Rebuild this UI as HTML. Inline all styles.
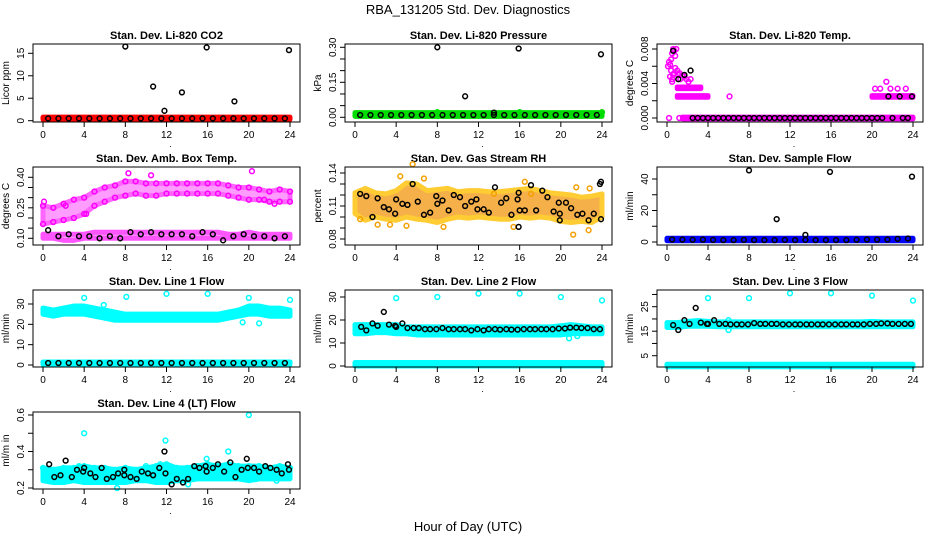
<!DOCTYPE html>
<html><head><meta charset="utf-8"><style>
body{margin:0;background:#fff;}
svg{display:block;font-family:"Liberation Sans",sans-serif;}
</style></head><body>
<svg id="chart" width="936" height="540" viewBox="0 0 936 540" xmlns="http://www.w3.org/2000/svg">
<rect width="936" height="540" fill="#fff"/>
<text x="468" y="14" text-anchor="middle" font-size="13">RBA_131205  Std. Dev. Diagnostics</text>
<text x="468" y="531" text-anchor="middle" font-size="13">Hour of Day (UTC)</text>
</svg>
<script>
// ---------- data ----------
const xTicks = [0,4,8,12,16,20,24];
const hours = [0,1,2,3,4,5,6,7,8,9,10,11,12,13,14,15,16,17,18,19,20,21,22,23,24];
const halfHours = [0.5,1.5,2.5,3.5,4.5,5.5,6.5,7.5,8.5,9.5,10.5,11.5,12.5,13.5,14.5,15.5,16.5,17.5,18.5,19.5,20.5,21.5,22.5,23.5];
const span024 = [0,24];

// P1 CO2
const co2RedLo = [0.3,0.3];
const co2RedHi = [0.8,0.8];
const co2Black = [0.5,0.5,0.5,0.5,0.5,0.5,0.5,0.5,0.5,0.5,0.5,0.5,0.5,0.5,0.5,0.5,0.5,0.5,0.5,0.5,0.5,0.5,0.5,0.5];
const co2OutT = [8,10.7,11.8,13.5,15.9,18.6,23.9];
const co2OutV = [16.5,7.6,2.2,6.3,16.3,4.3,15.7];

// P2 Pressure
const presGreenLo = [0.004,0.004];
const presGreenHi = [0.02,0.02];
const presBlack = [0.01,0.01,0.01,0.01,0.01,0.01,0.01,0.01,0.01,0.01,0.01,0.01,0.01,0.01,0.01,0.01,0.01,0.01,0.01,0.01,0.01,0.01,0.01,0.01];
const presOutT = [8,10.7,13.5,15.9,23.9];
const presOutV = [0.30,0.09,0.02,0.295,0.27];
const presGreenOutT = [8,16,24];
const presGreenOutV = [0.022,0.022,0.022];

// P3 Temp
const tempPinkT = [0.1,0.2,0.3,0.4,0.5,0.6,0.7,0.8,0.9,0.4,0.6,0.8,0.5,0.7,0.3,0.5,1.0,1.1,1.2,1.3,1.5,1.7,1.9,2.1,2.3,6.1,21.4,0.2,1.2];
const tempPinkV = [0.0060,0.0065,0.0062,0.0068,0.0075,0.0080,0.0078,0.0072,0.0080,0.0055,0.0050,0.0058,0.0045,0.0052,0.0048,0.0042,0.0055,0.0050,0.0052,0.0045,0.0050,0.0048,0.0045,0.0042,0.0045,0.0025,0.0042,0,0];
const tempBand1T = [1.0,3.3];
const tempBand1Lo = [0.0034,0.0034];
const tempBand1Hi = [0.0036,0.0036];
const tempBand2T = [1.0,4.0];
const tempBand2Lo = [0.0024,0.0024];
const tempBand2Hi = [0.0026,0.0026];
const tempBand3T = [20,24];
const tempBand3Lo = [0.0024,0.0024];
const tempBand3Hi = [0.0026,0.0026];
const tempBand4T = [20.3,20.8,21.8,22.5,23.3];
const tempBand4Lo = [0.0034,0.0034,0.0034,0.0034,0.0034];
const tempZeroT = [1.5,24];
const tempZeroLo = [-0.0001,-0.0001];
const tempZeroHi = [0.0001,0.0001];
const tempBlackT = [0.6,1.1,1.7,2.3,2.5,3.0,3.5,4,4.5,5,5.5,6,6.5,7,7.5,8,8.5,9,9.5,10,10.5,11,11.5,12,12.5,13,13.5,14,14.5,15,15.5,16,16.5,17,17.5,18,18.5,19,19.5,20,20.5,21,21.6,22,22.7,23,23.5,23.9];
const tempBlackV = [0.0078,0.0045,0.005,0.0055,0,0,0,0,0,0,0,0,0,0,0,0,0,0,0,0,0,0,0,0,0,0,0,0,0,0,0,0,0,0,0,0,0,0,0,0,0,0,0.0025,0,0.0025,0,0,0.0025];

// P4 Amb box temp
const ambUpLo = [0.17,0.18,0.19,0.20,0.22,0.26,0.28,0.30,0.31,0.32,0.31,0.31,0.32,0.32,0.32,0.32,0.32,0.32,0.31,0.30,0.29,0.29,0.28,0.28,0.28];
const ambUpHi = [0.26,0.25,0.27,0.29,0.30,0.33,0.35,0.36,0.38,0.38,0.37,0.37,0.37,0.37,0.37,0.37,0.37,0.37,0.36,0.35,0.35,0.34,0.33,0.34,0.33];
const ambLowLo = [0.10,0.10,0.09,0.09,0.10,0.10,0.10,0.10,0.10,0.10,0.10,0.10,0.10,0.10,0.10,0.10,0.10,0.10,0.10,0.10,0.10,0.10,0.10,0.10,0.10];
const ambLowHi = [0.12,0.12,0.12,0.12,0.12,0.13,0.13,0.13,0.13,0.13,0.13,0.13,0.13,0.13,0.13,0.13,0.13,0.13,0.12,0.12,0.13,0.12,0.12,0.12,0.12];
const ambOutT = [0.1,2.2,4.2,8.3,10.5,20.3,21.5,22.5];
const ambOutV = [0.28,0.26,0.22,0.42,0.41,0.43,0.29,0.27];
const ambBlack = [0.14,0.11,0.12,0.11,0.11,0.10,0.11,0.10,0.13,0.12,0.13,0.12,0.12,0.12,0.11,0.13,0.12,0.09,0.11,0.12,0.11,0.11,0.10,0.11];

// P5 Gas stream RH
const rhLo = [0.103,0.097,0.100,0.098,0.097,0.100,0.098,0.097,0.095,0.098,0.100,0.099,0.100,0.099,0.098,0.098,0.100,0.099,0.100,0.099,0.096,0.095,0.096,0.095,0.100];
const rhHi = [0.122,0.126,0.122,0.121,0.124,0.131,0.130,0.124,0.125,0.126,0.123,0.124,0.124,0.123,0.123,0.124,0.125,0.126,0.124,0.122,0.121,0.120,0.118,0.119,0.121];
const rhOutT = [0.5,2.2,3.4,4.4,5.0,5.6,6.7,8.6,13.5,15.4,16.5,17.1,21.2,21.5,22.7,22.8];
const rhOutV = [0.098,0.093,0.093,0.137,0.092,0.148,0.135,0.091,0.121,0.091,0.132,0.121,0.084,0.127,0.088,0.126];
const rhBlackT = [0.5,1.1,1.7,2.2,2.8,3.3,3.9,4.0,4.6,5.1,5.6,6.1,6.7,7.3,7.9,8.0,8.5,9.1,9.6,10.2,10.7,11.3,11.8,11.9,12.5,13.0,13.6,14.2,14.7,15.2,15.8,15.9,15.9,16.0,16.5,17.1,17.6,18.2,18.7,19.3,19.8,19.9,19.9,20.5,21.0,21.6,22.1,22.7,23.2,23.8,23.9,23.9];
const rhBlackV = [0.121,0.119,0.100,0.117,0.109,0.107,0.103,0.116,0.112,0.111,0.130,0.114,0.102,0.104,0.119,0.112,0.115,0.106,0.120,0.118,0.110,0.114,0.116,0.107,0.107,0.104,0.127,0.113,0.117,0.102,0.116,0.122,0.091,0.106,0.106,0.129,0.106,0.124,0.118,0.105,0.113,0.103,0.097,0.113,0.108,0.102,0.103,0.097,0.103,0.130,0.132,0.098];

// P6 Sample flow
const sfBlueLo = [0.8,0.8];
const sfBlueHi = [2.4,2.4];
const sfBlack = [1.6,1.5,1.4,1.5,1.3,1.2,1.2,1.3,1.2,1.2,1.2,1.3,1.2,1.3,1.2,1.2,1.2,1.2,1.4,1.6,1.5,1.6,2.0,2.2];
const sfOutT = [8,10.7,13.5,15.9,23.9];
const sfOutV = [45.5,14.5,4.5,44.5,41.5];

// P7 Line 1
const l1Lo = [25,24,25,25,25,24,23,22,22,22,22,22,22,22,22,22,22,22,23,24,25,25,24,24,24];
const l1Hi = [28,27,28,29,29,28,27,26,25,25,25,25,25,25,25,25,25,25,26,27,29,29,28,28,27];
const l1LowLo = [0.3,0.3];
const l1LowHi = [1.5,1.5];
const l1Black = [1,1,1,1,1,1,1,1,1,1,1,1,1,1,1,1,1,1,1,1,1,1,1,1];
const l1OutT = [4,5.9,8.1,12,16,19.4,20,21,24];
const l1OutV = [33,29.5,33.5,35,35,21,33,20.5,32];

// P8 Line 2
const l2Lo = [14,14,14.5,14.5,14,14,13.5,13.5,13.5,13.5,13.5,13.5,13.5,13.5,13.5,13.5,13.5,13.5,13.5,13.5,13.5,14,14,14,14];
const l2Hi = [18,18,18,18,18,17,17,17,17,17,17,17,17,17,17,17,17,17,17,17,17.5,18,17.5,17,17];
const l2LowLo = [0,0];
const l2LowHi = [1.5,1.5];
const l2BlackT = [0.6,1.1,1.7,2.2,2.8,3.3,3.9,4.0,4.6,5.1,5.7,6.2,6.8,7.3,7.9,8.5,9.1,9.6,10.2,10.7,11.3,11.9,12.5,13.0,13.6,14.1,14.7,15.2,15.8,16.4,17.0,17.5,18.1,18.6,19.2,19.8,20.4,20.9,21.5,22.0,22.6,23.2,23.8];
const l2BlackV = [17,15.5,18.5,17.5,23.5,18,17.5,17,18.5,16.5,16.5,16.5,16,16,16,16.5,16,16,16,16,15.5,16,15.5,16,16,15.8,16,15.8,15.8,16,16,16,16,16,16,16.3,16.3,16.7,16.7,16.5,16.5,16,16];
const l2OutT = [4,8,12,16,20,20.8,21.6,24];
const l2OutV = [29.5,30,31.5,31.5,30,12,13,28.5];

// P9 Line 3
const l3Lo = [16.5,16.5,17,17,17,16.8,16.8,16.8,16.8,16.8,16.8,16.8,16.8,16.8,16.8,16.8,16.8,16.8,16.8,16.8,16.8,16.8,16.8,16.8,16.8];
const l3Hi = [18.5,18.5,19,19.3,19,18.8,18.8,18.8,18.8,18.8,18.8,18.8,18.8,18.8,18.8,18.8,18.8,18.8,18.8,18.8,19,18.8,18.8,18.8,18.8];
const l3LowLo = [0.5,0.5];
const l3LowHi = [1.5,1.5];
const l3BlackT = [0.6,1.1,1.7,2.2,2.8,3.3,3.9,4.0,4.6,5.1,5.7,6.2,6.8,7.3,7.9,8.5,9.1,9.6,10.2,10.7,11.3,11.9,12.5,13.0,13.6,14.1,14.7,15.2,15.8,16.4,17.0,17.5,18.1,18.6,19.2,19.8,20.4,20.9,21.5,22.0,22.6,23.2,23.8];
const l3BlackV = [17.5,15.5,19.5,18,24.5,18.5,18,18,19.5,18,18,17.8,17.8,17.8,17.8,18.3,18,18,18,18,17.8,17.8,17.8,17.8,17.8,17.8,17.8,17.8,17.8,17.8,17.8,17.8,17.8,17.8,17.8,18,18,18.2,18.2,18,18,18,18];
const l3OutT = [4,6,6,8,12,16,20,24];
const l3OutV = [28.5,19.5,15.5,28.5,30.5,30.5,29.5,27.5];

// P10 Line 4
const l4Lo = [0.24,0.23,0.23,0.24,0.23,0.23,0.23,0.23,0.23,0.24,0.24,0.23,0.23,0.24,0.24,0.25,0.25,0.25,0.25,0.25,0.24,0.25,0.25,0.25,0.25];
const l4Hi = [0.31,0.30,0.31,0.31,0.32,0.31,0.31,0.30,0.31,0.30,0.31,0.32,0.33,0.31,0.31,0.32,0.33,0.32,0.33,0.32,0.32,0.32,0.31,0.32,0.31];
const l4OutT = [4,7.2,11.9,14.1,15.9,18,20,20.1,3.5,10,11.4,12.3,22.7];
const l4OutV = [0.50,0.20,0.46,0.22,0.36,0.40,0.60,0.26,0.32,0.32,0.33,0.31,0.24];
const l4BlackT = [0.6,1.1,1.7,2.2,2.8,3.3,3.9,4.0,4.6,5.1,5.7,6.2,6.8,7.3,7.9,7.9,8.5,9.1,9.6,10.2,10.7,11.3,11.8,11.9,12.5,13.0,13.6,14.1,14.7,15.2,15.8,15.9,16.5,17.0,17.6,18.2,18.7,19.3,19.8,19.9,20.5,21.0,21.6,22.1,22.7,23.2,23.8,23.9];
const l4BlackV = [0.33,0.26,0.27,0.35,0.26,0.30,0.29,0.31,0.28,0.26,0.31,0.25,0.26,0.28,0.30,0.27,0.26,0.25,0.29,0.28,0.27,0.31,0.40,0.28,0.22,0.25,0.23,0.25,0.32,0.31,0.32,0.29,0.31,0.33,0.29,0.34,0.26,0.30,0.36,0.31,0.31,0.29,0.32,0.31,0.30,0.28,0.33,0.30];

// ---------- layout ----------
const cols = [{b0:33,b1:300,x0:43,x24:290},{b0:345,b1:612,x0:355,x24:602},{b0:657,b1:923,x0:667,x24:913}];
const rows = [{t:44,b:122},{t:167,b:245},{t:290,b:367},{t:412,b:489}];
const svg = document.getElementById('chart');
const NS = 'http://www.w3.org/2000/svg';
function mk(tag, attrs, parent){
  const e = document.createElementNS(NS, tag);
  for (const k in attrs) e.setAttribute(k, attrs[k]);
  (parent||svg).appendChild(e);
  return e;
}

function panel(id, col, row, title, ylab, yt, ylabels, v0, y0, v1, y1, series){
  const c = cols[col], r = rows[row];
  const g = mk('g', {});
  
  
  const xs = t => c.x0 + t*(c.x24-c.x0)/24;
  const ys = v => y0 + (v-v0)*(y1-y0)/(v1-v0);
  const tt = mk('text', {x:(c.b0+c.b1)/2, y:r.t-5, 'text-anchor':'middle', 'font-size':'11', 'font-weight':'bold'}, g);
  tt.textContent = title;
  
  
  const yl = mk('text', {x:0, y:0, 'text-anchor':'middle', 'font-size':'10', transform:`translate(${c.b0-24},${(r.t+r.b)/2}) rotate(-90)`}, g);
  yl.textContent = ylab;
  
  
  const dg = mk('g', {}, g);
  
  
  series.forEach(s => {
    if (s.kind === 'band'){
      let pts = s.t.map((t,i)=>xs(t)+','+ys(s.hi[i]));
      pts = pts.concat(s.t.map((t,i)=>xs(t)+','+ys(s.lo[i])).reverse());
      const p = mk('polygon', {points:pts.join(' '), fill:s.fill||s.color, stroke:s.color, 'stroke-width':5, 'stroke-linejoin':'round'}, dg);
      
      
    } else {
      s.t.forEach((t,i)=>{
        const ci = mk('circle', {cx:xs(t), cy:ys(s.v[i]), r:2.4, fill:'none', stroke:s.color, 'stroke-width':1.5}, dg);
        
        
      });
    }
  });
  const bx = mk('rect', {x:c.b0, y:r.t, width:c.b1-c.b0, height:r.b-r.t, fill:'none', stroke:'#000', 'stroke-width':1}, g);
  
  
  const xa = mk('g', {}, g);
  
  
  mk('line', {x1:xs(0), x2:xs(24), y1:r.b, y2:r.b, stroke:'#000'}, xa);
  xTicks.forEach(t => {
    mk('line', {x1:xs(t), x2:xs(t), y1:r.b, y2:r.b+5, stroke:'#000'}, xa);
    const lt = mk('text', {x:xs(t), y:r.b+16, 'text-anchor':'middle', 'font-size':'10'}, xa);
    lt.textContent = String(t);
    
    
  });
  const dot = mk('text', {x:xs(12)+4, y:r.b+25, 'text-anchor':'middle', 'font-size':'9'}, xa);
  dot.textContent = '.';
  const ya = mk('g', {}, g);
  
  
  mk('line', {x1:c.b0, x2:c.b0, y1:ys(yt[0]), y2:ys(yt[yt.length-1]), stroke:'#000'}, ya);
  yt.forEach((v,i) => {
    mk('line', {x1:c.b0-5, x2:c.b0, y1:ys(v), y2:ys(v), stroke:'#000'}, ya);
    if (ylabels[i] !== ''){
      const lt = mk('text', {x:0, y:0, 'text-anchor':'middle', 'font-size':'10', transform:`translate(${c.b0-9},${ys(v)}) rotate(-90)`}, ya);
      lt.textContent = ylabels[i];
      
      
    }
  });
}

const RED='#ff0000', GRN='#00dd00', MAG='#ff00ff', BLK='#000000', BLU='#0000ff', CYA='#00ffff';

panel('co2',0,0,'Stan. Dev. Li-820 CO2','Licor ppm',[0,5,10,15],['0','5','10','15'],0,120.7,15,53.3,[
  {kind:'band',name:'red-band',t:span024,lo:co2RedLo,hi:co2RedHi,color:RED},
  {kind:'pts',name:'black',t:halfHours,v:co2Black,color:BLK},
  {kind:'pts',name:'black-outlier',t:co2OutT,v:co2OutV,color:BLK}]);

panel('pressure',1,0,'Stan. Dev. Li-820 Pressure','kPa',[0,0.05,0.1,0.15,0.2,0.25,0.3],['0.00','','','0.15','','','0.30'],0,117.3,0.3,47.3,[
  {kind:'band',name:'green-band',t:span024,lo:presGreenLo,hi:presGreenHi,color:GRN},
  {kind:'pts',name:'black',t:halfHours,v:presBlack,color:BLK},
  {kind:'pts',name:'green-outlier',t:presGreenOutT,v:presGreenOutV,color:GRN},
  {kind:'pts',name:'black-outlier',t:presOutT,v:presOutV,color:BLK}]);

panel('temp',2,0,'Stan. Dev. Li-820 Temp.','degrees C',[0,0.002,0.004,0.006,0.008],['0.000','','0.004','','0.008'],0,118,0.008,49,[
  {kind:'band',name:'zero-band',t:tempZeroT,lo:tempZeroLo,hi:tempZeroHi,color:MAG},
  {kind:'band',name:'band-a',t:tempBand1T,lo:tempBand1Lo,hi:tempBand1Hi,color:MAG},
  {kind:'band',name:'band-b',t:tempBand2T,lo:tempBand2Lo,hi:tempBand2Hi,color:MAG},
  {kind:'band',name:'band-c',t:tempBand3T,lo:tempBand3Lo,hi:tempBand3Hi,color:MAG},
  {kind:'pts',name:'magenta-upper',t:tempBand4T,v:tempBand4Lo,color:MAG},
  {kind:'pts',name:'magenta',t:tempPinkT,v:tempPinkV,color:MAG},
  {kind:'pts',name:'black',t:tempBlackT,v:tempBlackV,color:BLK}]);

panel('amb-temp',0,1,'Stan. Dev. Amb. Box Temp.','degrees C',[0.1,0.15,0.2,0.25,0.3,0.35,0.4],['0.10','','','0.25','','','0.40'],0.1,238.3,0.4,177.3,[
  {kind:'band',name:'upper-band',t:hours,lo:ambUpLo,hi:ambUpHi,color:'#ff66ff',fill:'#ff9cff'},
  {kind:'band',name:'lower-band',t:hours,lo:ambLowLo,hi:ambLowHi,color:'#ff55ff',fill:'#ff9cff'},
  {kind:'pts',name:'magenta-edge',t:hours,v:ambUpHi,color:MAG},
  {kind:'pts',name:'magenta-low-edge',t:hours,v:ambUpLo,color:MAG},
  {kind:'pts',name:'magenta-outlier',t:ambOutT,v:ambOutV,color:MAG},
  {kind:'pts',name:'black',t:halfHours,v:ambBlack,color:BLK}]);

panel('rh',1,1,'Stan. Dev. Gas Stream RH','percent',[0.08,0.09,0.1,0.11,0.12,0.13,0.14],['0.08','','','0.11','','','0.14'],0.08,239,0.14,173,[
  {kind:'band',name:'orange-band',t:hours,lo:rhLo,hi:rhHi,color:'#ffcc33',fill:'#f5b04a'},
  {kind:'pts',name:'orange-outlier',t:rhOutT,v:rhOutV,color:'#f5a000'},
  {kind:'pts',name:'black',t:rhBlackT,v:rhBlackV,color:BLK}]);

panel('sample-flow',2,1,'Stan. Dev. Sample Flow','ml/min',[0,10,20,30,40],['0','','20','','40'],0,242,40,179,[
  {kind:'band',name:'blue-band',t:span024,lo:sfBlueLo,hi:sfBlueHi,color:BLU},
  {kind:'pts',name:'black',t:halfHours,v:sfBlack,color:BLK},
  {kind:'pts',name:'black-outlier',t:sfOutT,v:sfOutV,color:BLK}]);

panel('line1',0,2,'Stan. Dev. Line 1 Flow','ml/min',[0,10,20,30],['0','10','20','30'],0,365,30,304,[
  {kind:'band',name:'cyan-band',t:hours,lo:l1Lo,hi:l1Hi,color:CYA},
  {kind:'band',name:'cyan-low-band',t:span024,lo:l1LowLo,hi:l1LowHi,color:CYA},
  {kind:'pts',name:'cyan-outlier',t:l1OutT,v:l1OutV,color:CYA},
  {kind:'pts',name:'black',t:halfHours,v:l1Black,color:BLK}]);

panel('line2',1,2,'Stan. Dev. Line 2 Flow','ml/min',[0,10,20,30],['0','10','20','30'],0,366,30,297,[
  {kind:'band',name:'cyan-band',t:hours,lo:l2Lo,hi:l2Hi,color:CYA},
  {kind:'band',name:'cyan-low-band',t:span024,lo:l2LowLo,hi:l2LowHi,color:CYA},
  {kind:'pts',name:'cyan-outlier',t:l2OutT,v:l2OutV,color:CYA},
  {kind:'pts',name:'black',t:l2BlackT,v:l2BlackV,color:BLK}]);

panel('line3',2,2,'Stan. Dev. Line 3 Flow','ml/min',[5,10,15,20,25,30],['5','','15','','25',''],5,355.7,25,306.7,[
  {kind:'band',name:'cyan-band',t:hours,lo:l3Lo,hi:l3Hi,color:CYA},
  {kind:'band',name:'cyan-low-band',t:span024,lo:l3LowLo,hi:l3LowHi,color:CYA},
  {kind:'pts',name:'cyan-outlier',t:l3OutT,v:l3OutV,color:CYA},
  {kind:'pts',name:'black',t:l3BlackT,v:l3BlackV,color:BLK}]);

panel('line4',0,3,'Stan. Dev. Line 4 (LT) Flow','ml/m in',[0.2,0.3,0.4,0.5,0.6],['0.2','','0.4','','0.6'],0.2,488,0.6,415,[
  {kind:'band',name:'cyan-band',t:hours,lo:l4Lo,hi:l4Hi,color:CYA},
  {kind:'pts',name:'cyan-edge',t:hours,v:l4Hi,color:CYA},
  {kind:'pts',name:'cyan-outlier',t:l4OutT,v:l4OutV,color:CYA},
  {kind:'pts',name:'black',t:l4BlackT,v:l4BlackV,color:BLK}]);
</script>
</body></html>
